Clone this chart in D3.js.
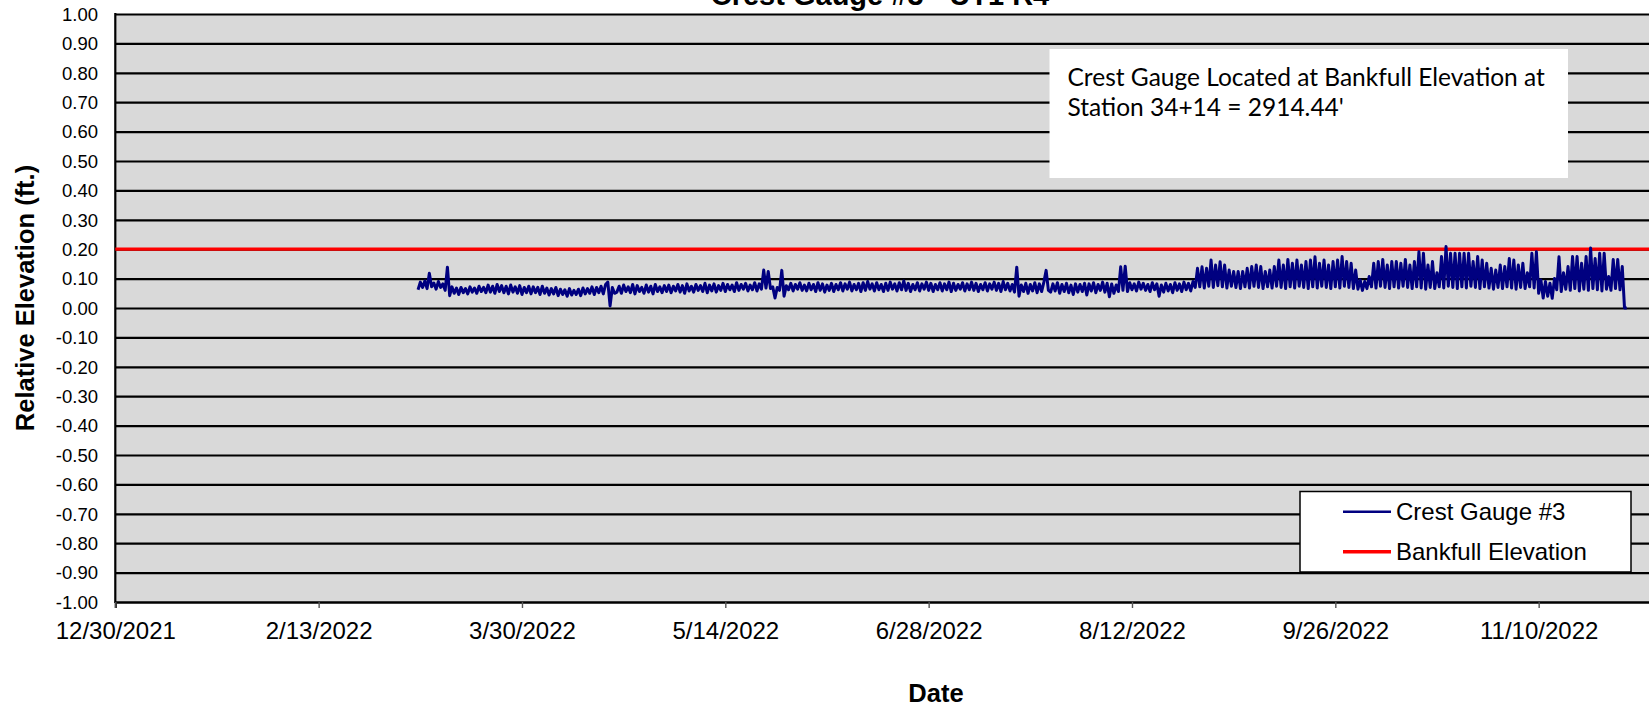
<!DOCTYPE html>
<html>
<head>
<meta charset="utf-8">
<script src="https://cdn.jsdelivr.net/npm/d3@7"></script>
<style>
  html, body { margin: 0; padding: 0; background: #fff; overflow: hidden; }
  svg { display: block; }
</style>
</head>
<body>
<svg id="chart" width="1649" height="711"></svg>
<script>
// ---- Text ----
const chartTitle = "Crest Gauge #3 - UT1 R4";
const yAxisTitle = "Relative Elevation (ft.)";
const xAxisTitle = "Date";
const noteLines = ["Crest Gauge Located at Bankfull Elevation at", "Station 34+14 = 2914.44'"];
const seriesNames = ["Crest Gauge #3", "Bankfull Elevation"];

// ---- Axes ----
const xTickLabels = ["12/30/2021", "2/13/2022", "3/30/2022", "5/14/2022", "6/28/2022",
                     "8/12/2022", "9/26/2022", "11/10/2022"];
const xDomainLabels = ["12/30/2021", "12/25/2022"];
const yTickValues = [1.0, 0.9, 0.8, 0.7, 0.6, 0.5, 0.4, 0.3, 0.2, 0.1, 0.0,
                     -0.1, -0.2, -0.3, -0.4, -0.5, -0.6, -0.7, -0.8, -0.9, -1.0];
const yTickLabels = ["1.00", "0.90", "0.80", "0.70", "0.60", "0.50", "0.40", "0.30", "0.20", "0.10", "0.00",
                     "-0.10", "-0.20", "-0.30", "-0.40", "-0.50", "-0.60", "-0.70", "-0.80", "-0.90", "-1.00"];

// ---- Bankfull reference ----
const bankfullElevation = 0.20;

// ---- Crest gauge readings (ft.), one every 12 hours from each block's start date ----
const marReadings = [ // from 2022-03-07
  0.062,0.088, 0.070,0.092, 0.066,0.118, 0.072,0.085, 0.064,0.090, 0.070,0.082, 0.060,0.139,
  0.042,0.072, 0.050,0.068, 0.046,0.070, 0.052,0.066, 0.048,0.072, 0.054,0.068, 0.050,0.074,
  0.056,0.070, 0.052,0.078, 0.054,0.074, 0.050,0.080, 0.056,0.076, 0.052,0.074, 0.048,0.078,
  0.054,0.072, 0.050,0.076, 0.046,0.070, 0.052,0.074
];
const aprReadings = [ // from 2022-04-01
  0.048,0.072, 0.052,0.070, 0.046,0.074, 0.050,0.068, 0.044,0.066, 0.048,0.070, 0.042,0.064,
  0.046,0.062, 0.040,0.066, 0.044,0.060, 0.046,0.064, 0.042,0.068, 0.048,0.066, 0.050,0.072,
  0.046,0.070, 0.052,0.074, 0.048,0.080, 0.088,0.007, 0.070,0.050, 0.054,0.074, 0.050,0.078,
  0.056,0.072, 0.052,0.080, 0.048,0.076, 0.056,0.070, 0.050,0.078, 0.054,0.074, 0.048,0.080,
  0.056,0.072, 0.052,0.076
];
const mayReadings = [ // from 2022-05-01
  0.056,0.078, 0.052,0.074, 0.058,0.080, 0.054,0.076, 0.050,0.082, 0.058,0.074, 0.054,0.080,
  0.060,0.076, 0.056,0.084, 0.052,0.078, 0.058,0.082, 0.054,0.076, 0.060,0.084, 0.056,0.080,
  0.062,0.078, 0.056,0.086, 0.060,0.080, 0.064,0.084, 0.058,0.078, 0.062,0.086, 0.058,0.082,
  0.064,0.129, 0.068,0.124, 0.066,0.072, 0.034,0.070, 0.060,0.128, 0.040,0.076, 0.062,0.084,
  0.058,0.080, 0.064,0.086, 0.060,0.078
];
const junReadings = [ // from 2022-06-01
  0.058,0.084, 0.062,0.080, 0.056,0.086, 0.060,0.082, 0.054,0.078, 0.060,0.084, 0.056,0.080,
  0.062,0.086, 0.058,0.082, 0.064,0.088, 0.058,0.080, 0.062,0.084, 0.056,0.086, 0.060,0.090,
  0.064,0.082, 0.058,0.086, 0.062,0.080, 0.056,0.084, 0.060,0.088, 0.064,0.082, 0.058,0.086,
  0.062,0.092, 0.060,0.084, 0.056,0.080, 0.062,0.086, 0.058,0.082, 0.064,0.088, 0.060,0.084,
  0.056,0.080, 0.062,0.086
];
const julReadings = [ // from 2022-07-01
  0.058,0.082, 0.062,0.088, 0.056,0.084, 0.060,0.080, 0.064,0.086, 0.058,0.082, 0.062,0.088,
  0.060,0.084, 0.056,0.080, 0.062,0.086, 0.058,0.082, 0.064,0.088, 0.060,0.084, 0.056,0.090,
  0.062,0.084, 0.058,0.080, 0.054,0.139, 0.040,0.078, 0.056,0.084, 0.050,0.080, 0.058,0.086,
  0.052,0.082, 0.056,0.088, 0.128,0.060, 0.054,0.082, 0.058,0.086, 0.050,0.080, 0.056,0.084,
  0.052,0.078, 0.046,0.082, 0.054,0.080
];
const augReadings = [ // from 2022-08-01
  0.056,0.084, 0.044,0.082, 0.058,0.086, 0.052,0.080, 0.060,0.088, 0.054,0.084, 0.038,0.082,
  0.050,0.078, 0.056,0.140, 0.060,0.142, 0.056,0.086, 0.062,0.082, 0.058,0.088, 0.064,0.084,
  0.060,0.080, 0.056,0.086, 0.062,0.082, 0.040,0.078, 0.054,0.084, 0.058,0.080, 0.052,0.086,
  0.060,0.082, 0.056,0.088, 0.062,0.084, 0.058,0.090, 0.070,0.135, 0.072,0.140, 0.068,0.135,
  0.074,0.163, 0.070,0.146, 0.076,0.157
];
const sepReadings = [ // from 2022-09-01
  0.072,0.146, 0.068,0.129, 0.074,0.124, 0.070,0.124, 0.066,0.124, 0.072,0.135, 0.068,0.141,
  0.074,0.146, 0.070,0.141, 0.066,0.124, 0.072,0.129, 0.068,0.141, 0.074,0.163, 0.070,0.146,
  0.066,0.165, 0.072,0.152, 0.068,0.163, 0.074,0.146, 0.070,0.158, 0.066,0.163, 0.072,0.174,
  0.068,0.152, 0.074,0.163, 0.070,0.146, 0.066,0.158, 0.072,0.163, 0.068,0.175, 0.074,0.158,
  0.070,0.152, 0.066,0.129
];
const octReadings = [ // from 2022-10-01
  0.064,0.095, 0.060,0.090, 0.066,0.107, 0.072,0.152, 0.068,0.158, 0.074,0.165, 0.070,0.146,
  0.066,0.158, 0.072,0.158, 0.068,0.152, 0.074,0.165, 0.070,0.146, 0.066,0.158, 0.072,0.191,
  0.068,0.186, 0.064,0.146, 0.070,0.158, 0.066,0.120, 0.072,0.175, 0.068,0.209, 0.074,0.186,
  0.070,0.186, 0.066,0.186, 0.072,0.186, 0.068,0.186, 0.074,0.158, 0.070,0.175, 0.066,0.163,
  0.072,0.152, 0.068,0.135, 0.064,0.129
];
const novReadings = [ // from 2022-11-01
  0.070,0.146, 0.066,0.141, 0.072,0.168, 0.068,0.163, 0.064,0.146, 0.070,0.152, 0.066,0.120,
  0.072,0.186, 0.068,0.191, 0.050,0.095, 0.034,0.090, 0.040,0.084, 0.033,0.100, 0.062,0.174,
  0.056,0.120, 0.064,0.141, 0.060,0.175, 0.066,0.175, 0.058,0.152, 0.064,0.175, 0.060,0.204,
  0.066,0.168, 0.062,0.186, 0.058,0.186, 0.064,0.107, 0.060,0.165, 0.066,0.165, 0.062,0.141,
  0.000,0.000
];
const readingStarts = ["2022-03-07", "2022-04-01", "2022-05-01", "2022-06-01", "2022-07-01",
                       "2022-08-01", "2022-09-01", "2022-10-01", "2022-11-01"];
const readingBlocks = [marReadings, aprReadings, mayReadings, junReadings, julReadings,
                       augReadings, sepReadings, octReadings, novReadings];

// ---- Build series ----
const HALF_DAY = 12 * 3600 * 1000;
const gaugeSeries = readingBlocks.flatMap((vals, b) => {
  const t0 = Date.parse(readingStarts[b] + "T00:00:00Z");
  return vals.map((v, i) => ({ date: new Date(t0 + i * HALF_DAY), value: v }));
});
const parseDate = d3.utcParse("%m/%d/%Y");

// ---- Layout ----
const plotLeft = 115.3, plotTop = 14, plotBottom = 602;
const plotRight = 1742; // the plot area runs past the right edge of the page
const sans = "'Liberation Sans', Arial, Helvetica, sans-serif";

const x = d3.scaleUtc()
  .domain(xDomainLabels.map(parseDate))
  .range([plotLeft, plotRight]);
const y = d3.scaleLinear().domain([-1, 1]).range([plotBottom, plotTop]);

const svg = d3.select("#chart");

// Plot background
svg.append("rect")
  .attr("x", plotLeft).attr("y", plotTop)
  .attr("width", plotRight - plotLeft).attr("height", plotBottom - plotTop)
  .attr("fill", "#d9d9d9");

// Horizontal gridlines + y labels
const yAxis = d3.axisLeft(y)
  .tickValues(yTickValues)
  .tickSize(-(plotRight - plotLeft))
  .tickFormat((d, i) => yTickLabels[i]);
const yG = svg.append("g").attr("transform", `translate(${plotLeft},0)`).call(yAxis);
yG.select(".domain").remove();
yG.selectAll(".tick line").attr("stroke", "#000").attr("stroke-width", 2.2);
yG.selectAll(".tick text")
  .attr("font-family", sans).attr("font-size", 18.5).attr("fill", "#000")
  .attr("x", 98 - plotLeft).attr("dy", "0.34em");

// Left axis line
svg.append("line")
  .attr("x1", plotLeft).attr("x2", plotLeft)
  .attr("y1", plotTop - 1).attr("y2", plotBottom + 1)
  .attr("stroke", "#000").attr("stroke-width", 2.2);

// X axis
const xAxis = d3.axisBottom(x)
  .tickValues(xTickLabels.map(parseDate))
  .tickSize(6)
  .tickFormat((d, i) => xTickLabels[i]);
const xG = svg.append("g").attr("transform", `translate(0,${plotBottom})`).call(xAxis);
xG.select(".domain").attr("stroke", "#000").attr("stroke-width", 2.2);
xG.selectAll(".tick line").attr("stroke", "#555").attr("stroke-width", 1.4);
xG.selectAll(".tick text")
  .attr("font-family", sans).attr("font-size", 24).attr("fill", "#000")
  .attr("y", 37).attr("dy", 0);

// Bankfull elevation line
svg.append("line")
  .attr("x1", x.range()[0]).attr("x2", x.range()[1])
  .attr("y1", y(bankfullElevation)).attr("y2", y(bankfullElevation))
  .attr("stroke", "#ff0000").attr("stroke-width", 3.2);

// Crest gauge series
const line = d3.line().x(d => x(d.date)).y(d => y(d.value));
svg.append("path")
  .datum(gaugeSeries)
  .attr("d", line)
  .attr("fill", "none")
  .attr("stroke", "#000080")
  .attr("stroke-width", 3)
  .attr("stroke-linejoin", "round");

// Note box
svg.append("rect")
  .attr("x", 1049.5).attr("y", 49).attr("width", 518.5).attr("height", 129)
  .attr("fill", "#fff");
svg.append("g").selectAll("text").data(noteLines).join("text")
  .attr("x", 1067.5).attr("y", (d, i) => 86 + i * 30)
  .attr("font-family", "Lato, 'Open Sans', sans-serif")
  .attr("font-size", 24.5).attr("fill", "#000")
  .text(d => d);

// Legend
const legend = svg.append("g");
legend.append("rect")
  .attr("x", 1300).attr("y", 491.5).attr("width", 331).attr("height", 80.5)
  .attr("fill", "#fff").attr("stroke", "#000").attr("stroke-width", 1.5);
const legendStyles = [{ color: "#000080", width: 2.5 }, { color: "#ff0000", width: 3.5 }];
seriesNames.forEach((name, i) => {
  const ly = 511.7 + i * 40;
  legend.append("line")
    .attr("x1", 1343).attr("x2", 1391).attr("y1", ly).attr("y2", ly)
    .attr("stroke", legendStyles[i].color).attr("stroke-width", legendStyles[i].width);
  legend.append("text")
    .attr("x", 1396).attr("y", ly + 8.5)
    .attr("font-family", sans).attr("font-size", 24).attr("fill", "#000")
    .text(name);
});

// Titles
svg.append("text")
  .attr("x", 880).attr("y", 5).attr("text-anchor", "middle")
  .attr("font-family", sans).attr("font-size", 29).attr("font-weight", "bold")
  .text(chartTitle);
svg.append("text")
  .attr("transform", `translate(33.5,${(plotTop + plotBottom) / 2 - 10}) rotate(-90)`)
  .attr("text-anchor", "middle")
  .attr("font-family", sans).attr("font-size", 25.5).attr("font-weight", "bold")
  .text(yAxisTitle);
svg.append("text")
  .attr("x", 936).attr("y", 702).attr("text-anchor", "middle")
  .attr("font-family", sans).attr("font-size", 25.5).attr("font-weight", "bold")
  .text(xAxisTitle);
</script>
</body>
</html>
